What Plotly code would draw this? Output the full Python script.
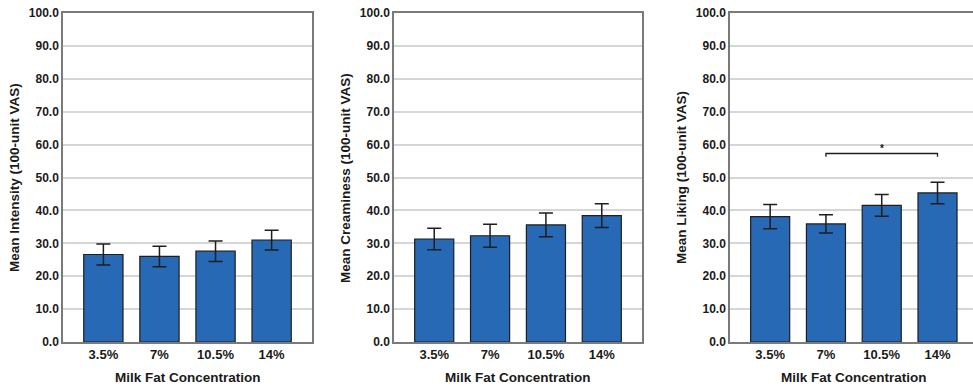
import plotly.graph_objects as go
from plotly.subplots import make_subplots

categories = ["3.5%", "7%", "10.5%", "14%"]

intensity_mean = [26.6, 26.0, 27.6, 31.0]
intensity_err = [3.2, 3.1, 3.1, 3.0]

creaminess_mean = [31.3, 32.3, 35.6, 38.4]
creaminess_err = [3.25, 3.5, 3.6, 3.6]

liking_mean = [38.1, 35.9, 41.5, 45.3]
liking_err = [3.7, 2.8, 3.3, 3.25]

y_titles = ["Mean Intensity (100-unit VAS)", "Mean Creaminess (100-unit VAS)", "Mean Liking (100-unit VAS)"]
x_title = "Milk Fat Concentration"
tick_vals = [0, 10, 20, 30, 40, 50, 60, 70, 80, 90, 100]

# significance bracket (panel 3): from category index 1 to 3
bracket_from, bracket_to = 1, 3
bracket_y, bracket_tick_y, star_y = 57.3, 56.3, 58.9

W, H = 973, 387
ML, MR, MT, MB = 63, 0, 13, 45
PW = W - ML - MR
PH = H - MT - MB

def sx(x):
    return (x - ML) / PW

def sy(y):
    return (H - MB - y) / PH

doms = [(63, 312), (394, 642), (730, 973)]
fig = make_subplots(rows=1, cols=3)

FONT = "Liberation Sans, Arial, sans-serif"
BAR_COLOR = "#2769b4"
series = [(intensity_mean, intensity_err), (creaminess_mean, creaminess_err), (liking_mean, liking_err)]
for i, (m, e) in enumerate(series):
    fig.add_trace(go.Bar(
        x=list(range(len(categories))), y=m, width=0.7,
        marker=dict(color=BAR_COLOR, line=dict(color="#1e1e1e", width=1.2)),
        error_y=dict(type="data", array=e, visible=True, color="#1e1e1e", thickness=1.5, width=7),
        showlegend=False, hoverinfo="y"), row=1, col=i + 1)

for i in range(3):
    xa = "xaxis" if i == 0 else f"xaxis{i+1}"
    ya = "yaxis" if i == 0 else f"yaxis{i+1}"
    d0, d1 = doms[i]
    xr_end = 3.72 if i < 2 else 3 + (973 - 937.5) / 55.8
    fig.layout[xa].update(
        domain=[sx(d0), min(1.0, sx(d1))],
        range=[-0.72, xr_end], automargin=False,
        tickmode="array", tickvals=list(range(len(categories))),
        ticktext=[f"<b>{c}</b>" for c in categories],
        showgrid=False, zeroline=False, showline=True, mirror=True,
        linecolor="#7a7a7a", linewidth=1.5, ticks="",
        tickfont=dict(family=FONT, size=13, color="#1a1a1a"),
    )
    fig.layout[ya].update(
        domain=[0, 1], range=[0, 100], automargin=False,
        tickmode="array", tickvals=tick_vals, ticklabeloverflow="allow",
        ticktext=[f"<b>{v:.1f}</b>" for v in tick_vals],
        showgrid=True, gridcolor="#d6d6d6", gridwidth=1.5, zeroline=False,
        showline=True, mirror=(i < 2), linecolor="#7a7a7a", linewidth=1.5, ticks="",
        tickfont=dict(family=FONT, size=12, color="#1a1a1a"),
    )
    fig.add_annotation(text=f"<b>{y_titles[i]}</b>", xref="paper", yref="paper",
                       x=sx([14, 345, 681][i]), y=sy(178), textangle=-90, showarrow=False,
                       xanchor="center", yanchor="middle",
                       font=dict(family=FONT, size=13.5, color="#1a1a1a"))
    xc = (d0 + d1) / 2 if i < 2 else (730 + 978) / 2
    fig.add_annotation(text=f"<b>{x_title}</b>", xref="paper", yref="paper",
                       x=sx(xc), y=sy(378), showarrow=False,
                       xanchor="center", yanchor="middle",
                       font=dict(family=FONT, size=13.5, color="#1a1a1a"))

# significance bracket
fig.add_shape(type="path", xref="x3", yref="y3",
              path=f"M {bracket_from} {bracket_tick_y} L {bracket_from} {bracket_y} L {bracket_to} {bracket_y} L {bracket_to} {bracket_tick_y}",
              line=dict(color="#1e1e1e", width=1.3))
fig.add_annotation(text="<b>*</b>", xref="x3", yref="y3", x=(bracket_from + bracket_to) / 2, y=star_y,
                   showarrow=False, font=dict(family=FONT, size=10, color="#1a1a1a"))

fig.update_layout(width=W, height=H, margin=dict(l=ML, r=MR, t=MT, b=MB, autoexpand=False),
                  plot_bgcolor="white", paper_bgcolor="white", bargap=0.3)
fig.write_html("out.html", config={"displayModeBar": False},
               post_script="document.body.style.margin='0';document.body.style.overflow='hidden';")
